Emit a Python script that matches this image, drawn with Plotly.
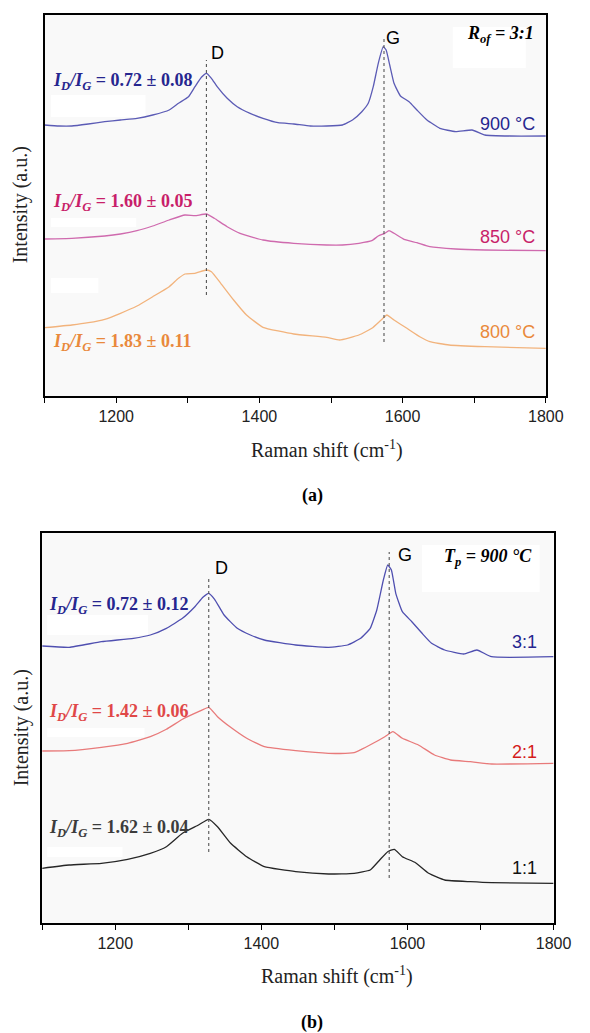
import plotly.graph_objects as go

# ---------------- data: Raman spectra (intensity in a.u., vertically offset) ----------------
# Panel (a): R_of = 3:1, different pyrolysis temperatures
wn_a_900 = [1100, 1120, 1138, 1161, 1184, 1206, 1229, 1251, 1274, 1287, 1301, 1310, 1319, 1326,
            1333, 1341, 1355, 1369, 1387, 1405, 1426, 1448, 1471, 1494, 1516, 1530, 1543, 1552,
            1559, 1566, 1573, 1577, 1582, 1588, 1597, 1609, 1620, 1634, 1652, 1674, 1697, 1715,
            1750, 1800]
int_a_900 = [271, 270, 270, 272, 274.3, 276, 277.7, 281, 286, 292.7, 299.3, 309.3, 318.7, 322.7,
             317.7, 309.3, 297.7, 289.3, 282.7, 277.7, 273.3, 272, 270, 270, 271, 276, 284.3, 292.7,
             309.3, 332.7, 349.3, 346, 331, 312.7, 300, 294.3, 286, 276, 267.7, 264.3, 266, 261,
             260, 260]

wn_a_850 = [1100, 1138, 1184, 1206, 1229, 1251, 1274, 1296, 1310, 1326, 1337, 1355, 1373, 1405,
            1448, 1494, 1516, 1539, 1557, 1566, 1575, 1581, 1588, 1602, 1620, 1638, 1674, 1715, 1800]
int_a_850 = [157, 157.7, 160, 162, 165.3, 170, 176, 181, 180.3, 182, 177.7, 169.3, 162.7, 156,
             152.7, 151, 151, 152.7, 155.3, 160, 162.7, 165.3, 162.7, 156.7, 153.3, 149.3, 147, 146, 145.3]

wn_a_800 = [1100, 1138, 1161, 1184, 1206, 1229, 1251, 1274, 1287, 1296, 1310, 1326, 1333, 1346,
            1364, 1382, 1405, 1448, 1494, 1512, 1539, 1557, 1570, 1578, 1588, 1606, 1624, 1638,
            1665, 1715, 1800]
int_a_800 = [68.3, 71, 73.3, 76.7, 82.7, 90, 99.3, 109.3, 117.7, 122, 122.7, 126, 124.3, 112.7,
             96, 81, 68.7, 62, 58.7, 56, 61, 67.7, 76, 81, 76, 67.7, 59.3, 54.3,
             51, 49.3, 47.7]

# Panel (b): T_p = 900 °C, different ratios
wn_b_31 = [1100, 1137, 1181, 1225, 1248, 1270, 1292, 1309, 1320, 1328, 1336, 1349, 1367, 1385,
           1404, 1447, 1492, 1518, 1536, 1549, 1558, 1567, 1573, 1578, 1584, 1593, 1606, 1620,
           1633, 1651, 1677, 1695, 1715, 1800]
int_b_31 = [277, 275.7, 281.3, 284.7, 288, 294.7, 304.7, 316.3, 325.7, 329.7, 323.7, 308, 294.7, 288,
            283, 278, 275.7, 278, 284.7, 294.7, 313, 343, 358, 353, 329.7, 311.3, 301.3, 289.7,
            279.7, 273, 269, 273, 266.3, 266.3]

wn_b_21 = [1100, 1137, 1181, 1217, 1248, 1270, 1292, 1314, 1328, 1340, 1358, 1380, 1404, 1447,
           1492, 1527, 1553, 1569, 1580, 1593, 1615, 1637, 1659, 1686, 1715, 1800]
int_b_21 = [172, 172.3, 175.7, 179.7, 186.3, 193.7, 203.7, 211.3, 215.7, 206.3, 195.7, 184.7, 176.3, 172.3,
            169.7, 170.3, 179.7, 186.3, 191.3, 184.7, 178, 168, 163, 161.3, 159, 159.7]

wn_b_11 = [1100, 1137, 1181, 1217, 1248, 1270, 1292, 1314, 1328, 1340, 1358, 1380, 1404, 1447,
           1492, 1527, 1549, 1562, 1573, 1582, 1593, 1611, 1629, 1651, 1686, 1715, 1800]
int_b_11 = [54.7, 58, 59.7, 63.7, 69.7, 76.3, 89.7, 98, 103.7, 96.3, 79.7, 66.3, 56.3, 51.3,
            49, 49.7, 53, 63, 71.3, 73.7, 66.3, 60.3, 49.7, 43, 41.3, 40.3, 39.7]

# Band positions (cm-1) and I_D/I_G ratios
band_a = {"D": 1326, "G": 1574}
band_b = {"D": 1328, "G": 1575}
ratios_a = ["0.72 ± 0.08", "1.60 ± 0.05", "1.83 ± 0.11"]
ratios_b = ["0.72 ± 0.12", "1.42 ± 0.06", "1.62 ± 0.04"]
labels_a = ["900 °C", "850 °C", "800 °C"]
labels_b = ["3:1", "2:1", "1:1"]
x_ticks = [1200, 1400, 1600, 1800]

# ---------------- styles ----------------
W, H = 590, 1033
SERIF = "Liberation Serif, Times New Roman, serif"
SANS = "Liberation Sans, Arial, sans-serif"

line_cols_a = ["#5b5bb5", "#cf6aae", "#f2b37c"]
text_cols_a = ["#26268f", "#c81f6a", "#e9893c"]
line_cols_b = ["#4f4fb0", "#e87a7a", "#262626"]
text_cols_b = ["#26268f", "#e04848", "#3c3c3c"]
name_cols_b = ["#26268f", "#d41c1c", "#111111"]


def py(px):
    """Convert a pixel row (from top) to paper fraction."""
    return 1 - px / H


def pxx(px):
    return px / W


fig = go.Figure()

# panel a traces
for wn, yv, col, nm in zip([wn_a_900, wn_a_850, wn_a_800], [int_a_900, int_a_850, int_a_800],
                           line_cols_a, labels_a):
    fig.add_trace(go.Scatter(x=wn, y=yv, mode="lines", name=nm,
                             line=dict(color=col, width=1.3, shape="spline", smoothing=0.4),
                             xaxis="x", yaxis="y", showlegend=False))
# panel b traces
for wn, yv, col, nm in zip([wn_b_31, wn_b_21, wn_b_11], [int_b_31, int_b_21, int_b_11],
                           line_cols_b, labels_b):
    fig.add_trace(go.Scatter(x=wn, y=yv, mode="lines", name=nm,
                             line=dict(color=col, width=1.3, shape="spline", smoothing=0.4),
                             xaxis="x2", yaxis="y2", showlegend=False))

axis_common = dict(
    range=[1100, 1800], showline=True, mirror=True, linecolor="black", linewidth=1.5,
    ticks="outside", ticklen=5, tickwidth=1.2, tickcolor="black", tickvals=x_ticks,
    tickfont=dict(family=SANS, size=16, color="#222"), showgrid=False, zeroline=False,
    minor=dict(dtick=100, tick0=1100, ticks="outside", ticklen=5, tickwidth=1.2, tickcolor="black"),
)
yaxis_common = dict(showline=True, mirror=True, linecolor="black", linewidth=1.5,
                    showticklabels=False, ticks="", showgrid=False, zeroline=False)

fig.update_layout(
    width=W, height=H, margin=dict(l=0, r=0, t=0, b=0),
    paper_bgcolor="white", plot_bgcolor="#f9f9f9",
    xaxis=dict(domain=[pxx(46), pxx(563)], anchor="y", **axis_common),
    yaxis=dict(domain=[py(396), py(15)], range=[0, 381], anchor="x", **yaxis_common),
    xaxis2=dict(domain=[pxx(43.5), pxx(571)], anchor="y2", **axis_common),
    yaxis2=dict(domain=[py(923), py(533)], range=[0, 390], anchor="x2", **yaxis_common),
)

shapes = []
# light patches behind labels
for (x0, y0, x1, y1, xr, yr) in [
    (1670, 369, 1772, 328, "x", "y"),
    (1109, 301, 1241, 279, "x", "y"),
    (1109, 178, 1228, 169, "x", "y"),
    (1109, 118, 1175, 103, "x", "y"),
    (1620, 378, 1781, 331, "x2", "y2"),
    (1107, 308, 1245, 288, "x2", "y2"),
    (1107, 195, 1240, 186, "x2", "y2"),
    (1107, 76, 1210, 66, "x2", "y2"),
]:
    shapes.append(dict(type="rect", xref=xr, yref=yr, x0=x0, x1=x1, y0=y0, y1=y1,
                       fillcolor="white", line=dict(width=0), layer="below"))
# dotted band guides
for xr, yr, band, spans in [("x", "y", band_a, {"D": (101, 336), "G": (54, 358)}),
                            ("x2", "y2", band_b, {"D": (71, 346), "G": (45, 371)})]:
    for k in ("D", "G"):
        shapes.append(dict(type="line", xref=xr, yref=yr, x0=band[k], x1=band[k],
                           y0=spans[k][0], y1=spans[k][1],
                           line=dict(color="#555", width=1.1, dash="dot")))
fig.update_layout(shapes=shapes)

ann = []


def ratio_text(r):
    return ("<b><i>I</i><sub><i>D</i></sub><i>/I</i><sub><i>G</i></sub> = " + r + "</b>")


# panel a annotations
for r, col, yv in zip(ratios_a, text_cols_a, [314, 193, 53]):
    ann.append(dict(x=1109, y=yv, xref="x", yref="y", text=ratio_text(r), xanchor="left",
                    yanchor="middle", showarrow=False, font=dict(family=SERIF, size=18, color=col)))
for t, col, yv in zip(labels_a, text_cols_a, [272, 159, 64]):
    ann.append(dict(x=1788, y=yv, xref="x", yref="y", text=t, xanchor="right", yanchor="middle",
                    showarrow=False, font=dict(family=SANS, size=18, color=col)))
ann.append(dict(x=1786, y=361, xref="x", yref="y",
                text="<b><i>R<sub>of</sub> = 3:1</i></b>", xanchor="right", yanchor="middle",
                showarrow=False, font=dict(family=SERIF, size=18, color="black")))
ann.append(dict(x=1342, y=343, xref="x", yref="y", text="D", showarrow=False,
                xanchor="center", yanchor="middle", font=dict(family=SANS, size=18, color="black")))
ann.append(dict(x=1587, y=358, xref="x", yref="y", text="G", showarrow=False,
                xanchor="center", yanchor="middle", font=dict(family=SANS, size=18, color="black")))

# panel b annotations
for r, col, yv in zip(ratios_b, text_cols_b, [318, 211, 95]):
    ann.append(dict(x=1107, y=yv, xref="x2", yref="y2", text=ratio_text(r), xanchor="left",
                    yanchor="middle", showarrow=False, font=dict(family=SERIF, size=18, color=col)))
for t, col, yv in zip(labels_b, name_cols_b, [281, 171, 55]):
    ann.append(dict(x=1780, y=yv, xref="x2", yref="y2", text=t, xanchor="right", yanchor="middle",
                    showarrow=False, font=dict(family=SANS, size=18, color=col)))
ann.append(dict(x=1773, y=366, xref="x2", yref="y2",
                text="<b><i>T<sub>p</sub> = 900 °C</i></b>", xanchor="right", yanchor="middle",
                showarrow=False, font=dict(family=SERIF, size=18, color="black")))
ann.append(dict(x=1346, y=355, xref="x2", yref="y2", text="D", showarrow=False,
                xanchor="center", yanchor="middle", font=dict(family=SANS, size=18, color="black")))
ann.append(dict(x=1596, y=368, xref="x2", yref="y2", text="G", showarrow=False,
                xanchor="center", yanchor="middle", font=dict(family=SANS, size=18, color="black")))

# axis titles and panel captions
for yc in (205, 728):
    ann.append(dict(x=pxx(22), y=py(yc), xref="paper", yref="paper", text="Intensity (a.u.)",
                    textangle=-90, showarrow=False, xanchor="center", yanchor="middle",
                    font=dict(family=SERIF, size=20, color="#222")))
for xc, yc in ((337, 450), (348, 975)):
    ann.append(dict(x=pxx(xc), y=py(yc), xref="paper", yref="paper",
                    text="Raman shift (cm<sup>-1</sup>)", showarrow=False,
                    xanchor="center", yanchor="middle",
                    font=dict(family=SERIF, size=20, color="#222")))
for t, yc in (("(a)", 495), ("(b)", 1022)):
    ann.append(dict(x=pxx(322), y=py(yc), xref="paper", yref="paper", text="<b>" + t + "</b>",
                    showarrow=False, xanchor="center", yanchor="middle",
                    font=dict(family=SERIF, size=18, color="black")))

fig.update_layout(annotations=ann)
fig.write_html("out.html")
